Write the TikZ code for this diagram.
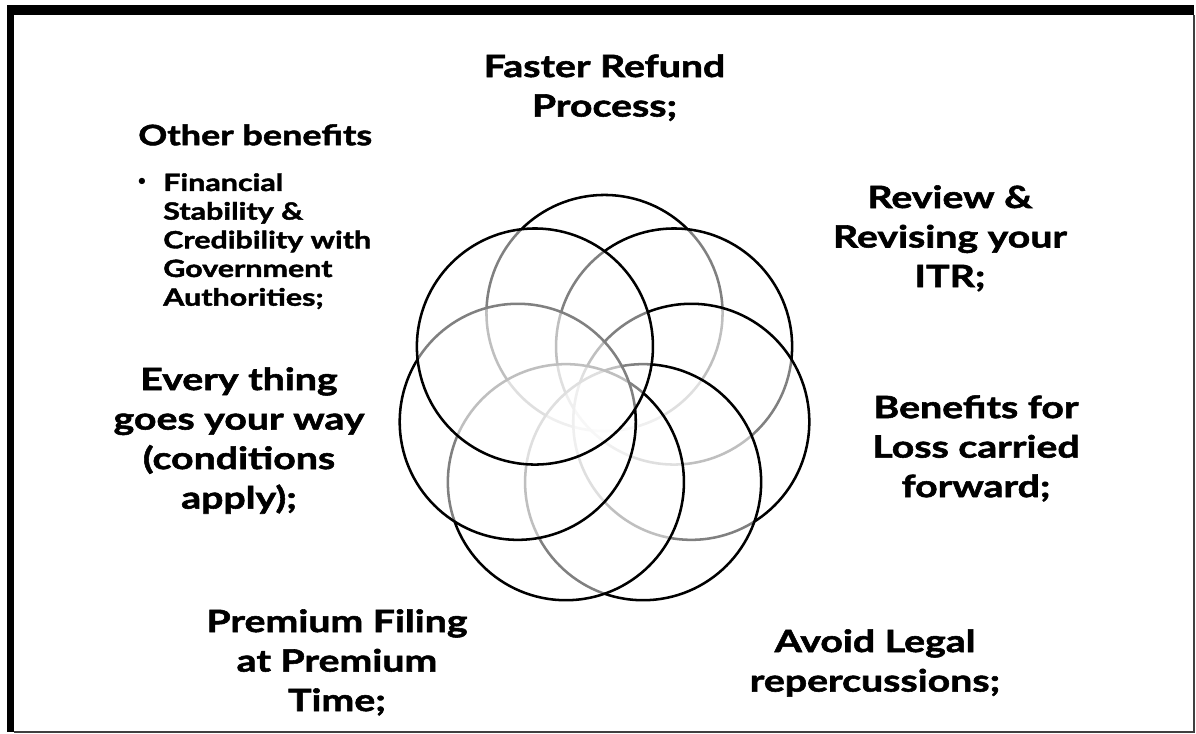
\documentclass[tikz,border=0pt]{standalone}
\usepackage{fontspec}
\setmainfont{Lato}[BoldFeatures={FakeStretch=1.28, FakeBold=1.8}]
\usetikzlibrary{calc}
\tikzstyle{biglabel} = [align=center,
anchor=north,
inner sep=0pt,
font=\fontsize{21.8}{28.1}\selectfont\bfseries]
\tikzstyle{smalllabel} = [align=left,
anchor=north west,
inner sep=0pt,
font=\fontsize{16.9}{20.4}\selectfont\bfseries]
\tikzstyle{ring} = [circle,
minimum size=5.9cm,
inner sep=0pt,
draw=black,
line width=1.8pt,
fill=white,
fill opacity=0.5]

\begin{document}
\begin{tikzpicture}[x=0.025cm, y=-0.025cm]
		\useasboundingbox (0,0) rectangle (1196,734);
		% frame
		\fill[black] (7,5) rectangle (1194,15);
		\fill[black] (7,5) rectangle (14,732);
		\draw[line width=0.8pt, black!75] (14,732) -- (1194,732) -- (1194,15);
		
		% seven overlapping rings
		\coordinate (hub) at (604.5,402);
		\foreach \ang [count=\i] in {-90,-38.57,12.86,64.29,115.71,167.14,218.57}
			\node (ring\i) [ring] at ($(hub)+(\ang:89)$) {};
		
		\node (faster) [biglabel] at (604.5,54) {Faster Refund\\Process;};
		\node (review) [biglabel] at (950,185) {Review \&\\Revising your\\ITR;};
		\node (loss) [biglabel] at (976,395) {Benefits for\\Loss carried\\forward;};
		\node (legal) [biglabel] at (875,629) {Avoid Legal\\repercussions;};
		\node (premium) [biglabel] at (337,609) {Premium Filing\\at Premium\\Time;};
		\node (every) [biglabel] at (239,367) {Every thing\\goes your way\\(conditions\\apply);};
		
		\node (other) [smalllabel, font=\fontsize{20}{22}\selectfont\bfseries] at (138,124) {Other benefits};
		\node (dot) [smalllabel, anchor=center, font=\fontsize{12}{14}\selectfont] at (142,182) {•};
		\node (finance) [smalllabel] at (163,173) {Financial\\Stability \&\\Credibility with\\Government\\Authorities;};
	\end{tikzpicture}
\end{document}
